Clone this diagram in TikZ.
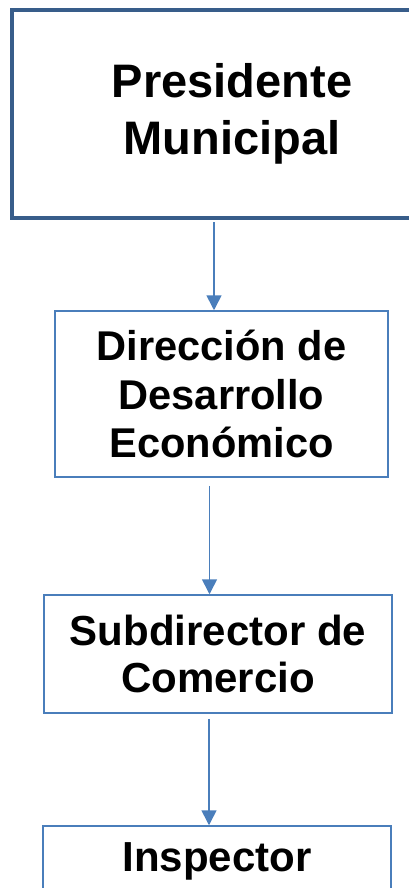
\documentclass[tikz,border=0pt]{standalone}
\usepackage{fontspec}
\setmainfont{Liberation Sans}
\usetikzlibrary{arrows.meta}
\definecolor{topblue}{HTML}{385D8A}
\definecolor{boxblue}{HTML}{4A7EBB}
\tikzset{
  boxnode/.style={draw=boxblue, line width=1.5pt, fill=white, align=center, inner sep=0pt, font=\bfseries},
  topnode/.style={draw=topblue, line width=4pt, fill=white, align=center, inner sep=0pt, font=\bfseries},
  arr/.style={draw=boxblue, line width=1.6pt, -{Triangle[width=15pt,length=15pt]}}
}
\begin{document}
\begin{tikzpicture}[x=1pt,y=1pt]
\useasboundingbox (0,0) rectangle (409,-888);
\node[topnode, minimum width=440pt, minimum height=208pt, font=\bfseries\fontsize{47}{57}\selectfont] (top) at (232,-114) {Presidente\\Municipal};
\node[boxnode, minimum width=333pt, minimum height=166pt, font=\bfseries\fontsize{41.6}{48.5}\selectfont] (dir) at (221.5,-394) {Dirección de\\Desarrollo\\Económico};
\node[boxnode, minimum width=348pt, minimum height=118pt, font=\bfseries\fontsize{42}{47}\selectfont] (sub) at (218,-654) {Subdirector de\\Comercio};
\node[boxnode, minimum width=348pt, minimum height=70pt, font=\bfseries\fontsize{42}{47}\selectfont] (ins) at (217,-861) {Inspector};
\draw[arr] ([xshift=-18pt,yshift=-2pt]top.south) -- ([xshift=-7.5pt]dir.north);
\draw[arr, shorten <=8pt] ([xshift=-12pt]dir.south) -- ([xshift=-8.5pt]sub.north);
\draw[arr, shorten <=5pt] ([xshift=-9pt]sub.south) -- ([xshift=-8pt]ins.north);
\end{tikzpicture}
\end{document}
